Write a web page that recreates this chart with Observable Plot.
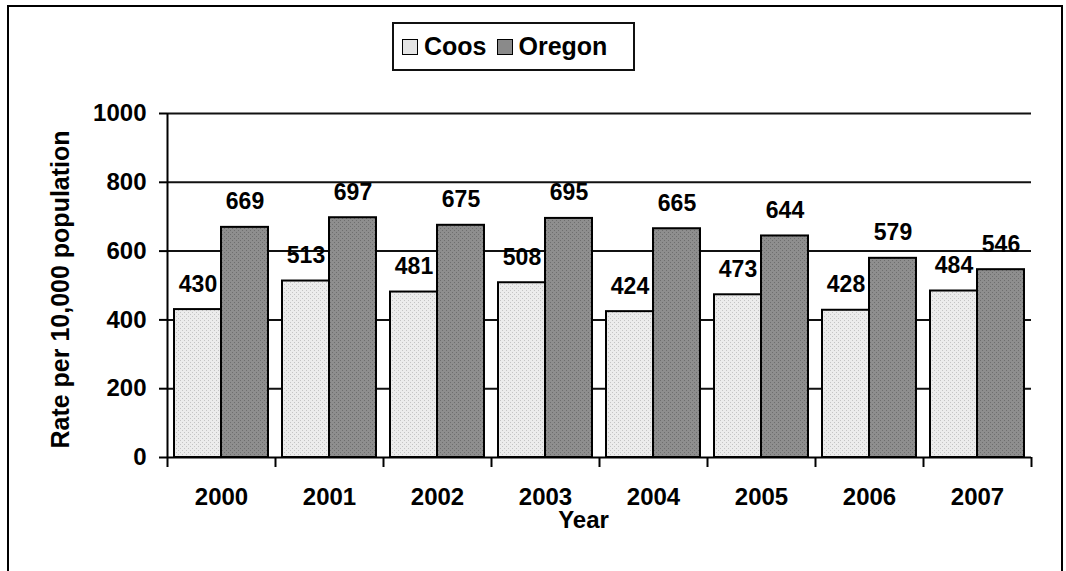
<!DOCTYPE html>
<html>
<head>
<meta charset="utf-8">
<script src="https://cdn.jsdelivr.net/npm/d3@7"></script>
<script src="https://cdn.jsdelivr.net/npm/@observablehq/plot@0.6"></script>
<style>
  html, body { margin: 0; padding: 0; width: 1066px; height: 571px; overflow: hidden; background: #fff; }
  body { position: relative; font-family: "Liberation Sans", Arial, sans-serif; }
  #border { position: absolute; left: 7px; top: 5px; width: 1052px; height: 600px; border: 2px solid #000; }
  #chart { position: absolute; left: 0; top: 0; }
  #legend { position: absolute; left: 392px; top: 22px; width: 231px; height: 45px; border: 2px solid #111;
            background: #fff; display: flex; align-items: center; padding-left: 8px; box-sizing: content-box;
            font-weight: bold; font-size: 25px; color: #000; }
  #legend .sw { width: 14px; height: 14px; border: 1.5px solid #000; display: inline-block; margin-right: 6px; }
  #legend .item { display: flex; align-items: center; margin-right: 10px; line-height: 1; }
</style>
</head>
<body>
<svg width="0" height="0" style="position:absolute">
  <defs>
    <pattern id="patCoos" width="4" height="4" patternUnits="userSpaceOnUse">
      <rect width="4" height="4" fill="#ececec"/>
      <rect x="0" y="0" width="1" height="1" fill="#c4c4c4"/>
      <rect x="2" y="2" width="1" height="1" fill="#c4c4c4"/>
    </pattern>
    <pattern id="patOregon" width="4" height="4" patternUnits="userSpaceOnUse">
      <rect width="4" height="4" fill="#8e8e8e"/>
      <rect x="0" y="0" width="1" height="1" fill="#6e6e6e"/>
      <rect x="2" y="2" width="1" height="1" fill="#6e6e6e"/>
    </pattern>
  </defs>
</svg>
<div id="border"></div>
<div id="chart"></div>
<div id="legend">
  <span class="item"><span class="sw" style="background:#e4e4e4"></span>Coos</span>
  <span class="item"><span class="sw" style="background:#8a8a8a"></span>Oregon</span>
</div>
<script>
const years = ["2000", "2001", "2002", "2003", "2004", "2005", "2006", "2007"];
const coosValues = [430, 513, 481, 508, 424, 473, 428, 484];
const oregonValues = [669, 697, 675, 695, 665, 644, 579, 546];
const yTicks = [0, 200, 400, 600, 800, 1000];
const gridValues = [200, 400, 600, 800, 1000];

const coos = years.map((year, i) => ({year, value: coosValues[i]}));
const oregon = years.map((year, i) => ({year, value: oregonValues[i]}));

const labelFont = "'Liberation Sans Narrow', 'Arial Narrow', 'Liberation Sans', Arial, sans-serif";

const chart = Plot.plot({
  width: 1066,
  height: 571,
  marginTop: 113,
  marginBottom: 114,
  marginLeft: 167,
  marginRight: 35,
  style: {fontFamily: "'Liberation Sans', Arial, sans-serif", fontWeight: "bold", color: "#000", background: "transparent"},
  x: {type: "band", domain: years, paddingInner: 0.13, paddingOuter: 0.065, axis: null},
  y: {domain: [0, 1000], axis: null},
  marks: [
    Plot.ruleY(gridValues, {stroke: "#111", strokeWidth: 2}),
    Plot.barY(coos, {x: "year", y: "value", insetRight: 47, fill: "url(#patCoos)", stroke: "#000", strokeWidth: 2}),
    Plot.barY(oregon, {x: "year", y: "value", insetLeft: 47, fill: "url(#patOregon)", stroke: "#000", strokeWidth: 2}),
    Plot.ruleY([0], {stroke: "#000", strokeWidth: 2}),
    // left axis line (extends below into first tick)
    Plot.ruleX([years[0]], {dx: -54, y1: 1000, y2: 0, insetBottom: -10, stroke: "#000", strokeWidth: 2}),
    // category boundary ticks
    Plot.ruleX(years, {dx: 54, y1: 0, y2: 0, insetBottom: -10, stroke: "#000", strokeWidth: 2}),
    Plot.axisY({ticks: yTicks, tickFormat: d => String(d), tickSize: 8, tickPadding: 13, fontSize: 24, fontWeight: "bold", label: null, strokeWidth: 2}),
    Plot.axisX({tickSize: 0, tickPadding: 30, fontSize: 24, fontWeight: "bold", label: null}),
    Plot.text(coos, {x: "year", y: "value", text: d => String(d.value), dx: -23.5, dy: -18, lineAnchor: "bottom",
      fontSize: 23, fontWeight: "bold", fontFamily: labelFont, fill: "#000"}),
    Plot.text(oregon, {x: "year", y: "value", text: d => String(d.value), dx: 23.5, dy: -18, lineAnchor: "bottom",
      fontSize: 23, fontWeight: "bold", fontFamily: labelFont, fill: "#000"}),
    Plot.text(["Year"], {frameAnchor: "bottom", dx: -16, dy: 70, fontSize: 24, fontWeight: "bold", fill: "#000"}),
    Plot.text(["Rate per 10,000 population"], {frameAnchor: "left", textAnchor: "middle", rotate: -90, dx: -107, dy: 4, fontSize: 25, fontWeight: "bold", fill: "#000"})
  ]
});
document.getElementById("chart").appendChild(chart);
</script>
</body>
</html>
